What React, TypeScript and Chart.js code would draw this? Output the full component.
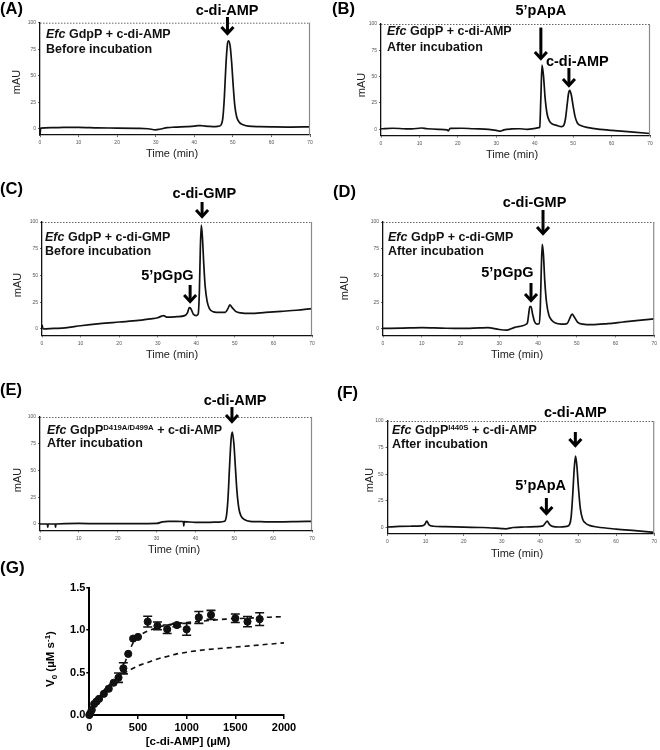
import React, { useEffect, useRef } from 'react';
import { Chart, registerables } from 'chart.js';

Chart.register(...registerables);

const FONT = '"Liberation Sans", Arial, Helvetica, sans-serif';
Chart.defaults.font.family = FONT;

// ---------- data ----------
const TIME_TICKS = [0, 10, 20, 30, 40, 50, 60, 70];
const MAU_TICKS = [0, 25, 50, 75, 100];

const A_TIME = [0, 0.2, 3, 6, 10, 15, 20, 25, 28, 30, 31, 33, 35, 38, 40, 41, 42, 44, 45.5, 46.5, 47, 47.4, 47.8, 48.2, 48.6, 48.9, 49.3, 49.7, 50.1, 50.5, 51, 51.7, 52.5, 54, 57, 60, 65, 70];
const A_MAU = [-6, 0.5, 1, 1.2, 1.3, 0.8, 0.6, 0.3, 0, -1, -0.5, 1, 1.5, 2, 2.5, 3, 2.8, 2.2, 2, 2.5, 4, 10, 30, 60, 80, 83, 78, 62, 40, 22, 11, 6, 4, 2.5, 2, 1.8, 1.6, 1.8];

const B_TIME = [0, 3, 6, 8, 10.5, 12, 15, 17.2, 17.5, 18, 21, 24, 28, 30, 31, 32, 34, 36, 38, 40, 41, 41.3, 41.6, 41.9, 42.3, 42.7, 43.2, 43.8, 44.6, 45.5, 47, 47.6, 48.0, 48.4, 48.8, 49.1, 49.5, 50.0, 50.5, 51.1, 52, 54, 57, 60, 65, 70];
const B_MAU = [0.5, 1, 0.5, 0.3, 1.2, 0.5, 0, -0.5, -1.5, 0.8, 1, 0.5, 0, -1, -1.8, -0.5, 0.3, 0.5, 0, 0.8, 1.5, 2, 30, 61, 50, 30, 15, 8, 5, 4, 2.5, 4, 10, 22, 34, 37, 33, 22, 12, 6, 3.5, 1.5, 0, -1, -2.5, -4];

const C_TIME = [0, 0.3, 3, 6, 10, 15, 20, 25, 28, 30, 31, 31.5, 32.5, 35, 37, 37.7, 38.2, 38.6, 39.2, 40, 40.5, 40.8, 41.05, 41.3, 41.6, 41.95, 42.3, 42.8, 43.4, 44.5, 46, 47.5, 48.2, 48.7, 49.3, 50.2, 51.5, 54, 58, 62, 66, 70];
const C_MAU = [4, 0, 0.5, 1, 3, 5, 6.5, 8, 9.5, 10.5, 12, 12.5, 11, 11.5, 12.5, 15, 20, 19, 14, 12.5, 14, 35, 75, 97, 85, 60, 40, 26, 19, 16, 15.5, 15.5, 19, 22.5, 20, 16.5, 15, 14.5, 15.5, 16.5, 17.5, 19];

const D_TIME = [0, 5, 10, 15, 20, 25, 27, 30, 32, 34, 36, 37, 37.3, 37.6, 37.9, 38.2, 38.6, 39.1, 39.7, 40.3, 40.6, 40.85, 41.1, 41.4, 41.75, 42.2, 42.8, 43.6, 44.5, 46, 47.5, 48.2, 48.8, 49.4, 50.2, 51.5, 54, 58, 62, 66, 70];
const D_MAU = [0.5, 0.8, 1.2, 0.8, 0.5, 1, 1.2, -0.5, -1, 1.5, 3, 4.5, 6, 14, 21, 21, 14, 7, 4.5, 5, 20, 55, 79, 70, 45, 25, 13, 8, 5.5, 4.5, 5, 10, 14, 11, 6.5, 4.5, 4, 5, 6.5, 8, 9.5];

const E_TIME = [0, 1.9, 2.0, 2.1, 3.9, 4.0, 4.1, 10, 15, 20, 25, 30, 31.5, 33, 35, 36.9, 37, 37.1, 40, 43, 46, 47.5, 48, 48.4, 48.8, 49.2, 49.5, 49.9, 50.3, 50.7, 51.2, 51.8, 52.7, 54, 56, 58, 62, 66, 70];
const E_MAU = [0, 0, -3, 0, 0, -3, 0, 0.5, 0.3, 0.3, 0.3, 0.5, 2, 2.5, 2.5, 2.3, -2, 2.2, 1.5, 1.5, 1.8, 2.5, 8, 25, 55, 80, 86, 75, 52, 30, 14, 7, 4, 2.5, 2.2, 2, 2, 2.2, 2.5];

const F_TIME = [0, 3, 6, 9, 9.8, 10.3, 10.9, 12, 15, 20, 25, 30, 31, 33, 36, 39, 40.8, 41.4, 41.9, 42.5, 43.3, 45, 47, 47.8, 48.2, 48.6, 49, 49.35, 49.7, 50.1, 50.6, 51.2, 52, 53, 55, 60, 65, 70];
const F_MAU = [0.5, 1, 1.2, 1.5, 3, 6, 2.5, 1.2, 0.8, 0.3, 0, -1, -1.2, 0, 0.5, 0.8, 1.5, 4, 6, 3, 1, 0.5, 1, 3, 10, 30, 55, 67, 58, 38, 18, 8, 4, 2, 0.5, -1.5, -3, -4.5];

const G_X_TICKS = [0, 500, 1000, 1500, 2000];
const G_Y_TICKS = [0, 0.5, 1.0, 1.5];
const G_CONC = [0, 10, 25, 50, 75, 100, 150, 200, 250, 300, 350, 400, 450, 500, 600, 700, 800, 900, 1000, 1125, 1250, 1500, 1625, 1750];
const G_V0 = [0, 0.02, 0.06, 0.13, 0.16, 0.19, 0.25, 0.31, 0.38, 0.44, 0.55, 0.72, 0.9, 0.92, 1.1, 1.05, 1.01, 1.06, 1.01, 1.15, 1.18, 1.14, 1.1, 1.13];
const G_ERR = [0, 0, 0, 0, 0, 0, 0, 0, 0, 0.055, 0.065, 0, 0, 0, 0.063, 0.045, 0.05, 0.02, 0.07, 0.07, 0.053, 0.05, 0.06, 0.075];
const FIT_CONC = [0, 50, 100, 150, 200, 250, 300, 350, 400, 450, 500, 550, 600, 700, 800, 900, 1000, 1200, 1400, 1600, 1800, 2000];
const FIT_HILL = [0, 0.11, 0.19, 0.25, 0.31, 0.37, 0.44, 0.57, 0.72, 0.85, 0.92, 0.96, 0.99, 1.03, 1.06, 1.08, 1.09, 1.11, 1.13, 1.14, 1.15, 1.16];
const FIT_MM = [0, 0.12, 0.21, 0.29, 0.35, 0.4, 0.45, 0.49, 0.52, 0.55, 0.58, 0.6, 0.62, 0.66, 0.69, 0.72, 0.74, 0.77, 0.79, 0.81, 0.83, 0.85];

// ---------- layout / styling ----------
type Seg = { t: string; i?: boolean; sup?: boolean };
type Lbl = { text: string; x: number; y: number };
type Arw = { x: number; y1: number; y2: number };
type Panel = {
  key: string; letter: string;
  box: number[]; area: number[]; yMin: number;
  t: number[]; v: number[];
  letterPos: number[]; yTitle: number[]; xTitle: number[];
  innerX: number; innerY: number[]; lines: Seg[][];
  labels: Lbl[]; arrows: Arw[];
};

const LINE_AMP_BEFORE: Seg[][] = [[{ t: 'Efc', i: true }, { t: ' GdpP + c-di-AMP' }], [{ t: 'Before incubation' }]];
const LINE_AMP_AFTER: Seg[][] = [[{ t: 'Efc', i: true }, { t: ' GdpP + c-di-AMP' }], [{ t: 'After incubation' }]];
const LINE_GMP_BEFORE: Seg[][] = [[{ t: 'Efc', i: true }, { t: ' GdpP + c-di-GMP' }], [{ t: 'Before incubation' }]];
const LINE_GMP_AFTER: Seg[][] = [[{ t: 'Efc', i: true }, { t: ' GdpP + c-di-GMP' }], [{ t: 'After incubation' }]];
const LINE_E: Seg[][] = [[{ t: 'Efc', i: true }, { t: ' GdpP' }, { t: 'D419A/D499A', sup: true }, { t: ' + c-di-AMP' }], [{ t: 'After incubation' }]];
const LINE_F: Seg[][] = [[{ t: 'Efc', i: true }, { t: ' GdpP' }, { t: 'I440S', sup: true }, { t: ' + c-di-AMP' }], [{ t: 'After incubation' }]];

const PANELS: Panel[] = [
  { key: 'A', letter: '(A)', box: [0, 0, 330, 168], area: [40, 22.7, 310, 135.1], yMin: -6, t: A_TIME, v: A_MAU,
    letterPos: [0, 13.5], yTitle: [17, 82], xTitle: [172, 157], innerX: 46, innerY: [37.7, 52.7], lines: LINE_AMP_BEFORE,
    labels: [{ text: 'c-di-AMP', x: 48.5, y: 107.7 }], arrows: [{ x: 48.6, y1: 105.4, y2: 88.4 }] },
  { key: 'B', letter: '(B)', box: [330, 0, 330, 168], area: [381, 24, 650, 135.6], yMin: -6, t: B_TIME, v: B_MAU,
    letterPos: [332, 14], yTitle: [362, 85], xTitle: [512, 158], innerX: 387, innerY: [35.3, 51], lines: LINE_AMP_AFTER,
    labels: [{ text: '5\u2019pApA', x: 41.6, y: 109 }, { text: 'c-di-AMP', x: 51.1, y: 60.1 }],
    arrows: [{ x: 41.6, y1: 96.6, y2: 65.8 }, { x: 48.9, y1: 58.2, y2: 40.2 }] },
  { key: 'C', letter: '(C)', box: [0, 168, 330, 197], area: [42, 222, 312, 335.4], yMin: -6, t: C_TIME, v: C_MAU,
    letterPos: [0, 193.5], yTitle: [18, 285], xTitle: [172, 358], innerX: 45, innerY: [240.5, 254.5], lines: LINE_GMP_BEFORE,
    labels: [{ text: 'c-di-GMP', x: 42.1, y: 122.4 }, { text: '5\u2019pGpG', x: 32.5, y: 45.8 }],
    arrows: [{ x: 41.5, y1: 118.7, y2: 103.7 }, { x: 38.4, y1: 41.1, y2: 24.3 }] },
  { key: 'D', letter: '(D)', box: [330, 168, 330, 197], area: [383, 222, 656, 335.4], yMin: -6, t: D_TIME, v: D_MAU,
    letterPos: [333, 196.5], yTitle: [345, 288], xTitle: [517, 358], innerX: 388, innerY: [240.5, 254.5], lines: LINE_GMP_AFTER,
    labels: [{ text: 'c-di-GMP', x: 39.1, y: 114.3 }, { text: '5\u2019pGpG', x: 32.1, y: 48.6 }],
    arrows: [{ x: 41.3, y1: 111.2, y2: 87.9 }, { x: 38.2, y1: 43, y2: 25.2 }] },
  { key: 'E', letter: '(E)', box: [0, 365, 330, 197], area: [40, 417, 312, 530.4], yMin: -6, t: E_TIME, v: E_MAU,
    letterPos: [0, 395], yTitle: [18, 480], xTitle: [174, 553], innerX: 47, innerY: [434, 447], lines: LINE_E,
    labels: [{ text: 'c-di-AMP', x: 50.2, y: 111.2 }], arrows: [{ x: 49.4, y1: 109.3, y2: 94.4 }] },
  { key: 'F', letter: '(F)', box: [330, 365, 330, 197], area: [387.5, 421, 656.5, 533.9], yMin: -6, t: F_TIME, v: F_MAU,
    letterPos: [337, 398], yTitle: [370, 480], xTitle: [517, 557], innerX: 392, innerY: [434, 448], lines: LINE_F,
    labels: [{ text: 'c-di-AMP', x: 49.3, y: 103.8 }, { text: '5\u2019pApA', x: 40.2, y: 35.2 }],
    arrows: [{ x: 49.3, y1: 89.7, y2: 75.6 }, { x: 41.7, y1: 27.7, y2: 11.7 }] },
];

const G_BOX = [0, 556, 330, 194];
const G_AREA = [89.3, 587.7, 284, 715];

// ---------- drawing helpers ----------
function drawSegs(ctx: CanvasRenderingContext2D, segs: Seg[], x: number, y: number, size: number) {
  let cx = x;
  ctx.textAlign = 'left';
  ctx.textBaseline = 'alphabetic';
  for (const s of segs) {
    const sz = s.sup ? size * 0.62 : size;
    ctx.font = `${s.i ? 'italic ' : ''}bold ${sz}px ${FONT}`;
    const dy = s.sup ? -size * 0.36 : 0;
    ctx.fillText(s.t, cx, y + dy);
    cx += ctx.measureText(s.t).width;
  }
}

function drawArrow(ctx: CanvasRenderingContext2D, x: number, yTop: number, yTip: number) {
  ctx.save();
  ctx.strokeStyle = '#000';
  ctx.lineWidth = 3;
  ctx.lineCap = 'butt';
  ctx.lineJoin = 'miter';
  ctx.beginPath();
  ctx.moveTo(x, yTop);
  ctx.lineTo(x, yTip - 2);
  ctx.stroke();
  ctx.beginPath();
  ctx.moveTo(x - 6, yTip - 8);
  ctx.lineTo(x, yTip - 1.5);
  ctx.lineTo(x + 6, yTip - 8);
  ctx.stroke();
  ctx.restore();
}

function buildChromatogram(canvas: HTMLCanvasElement, p: Panel) {
  const [cx, cy, cw, ch] = p.box;
  const [L, T, R, B] = p.area;
  const deco = {
    id: 'deco' + p.key,
    afterDraw(chart: any) {
      const ctx: CanvasRenderingContext2D = chart.ctx;
      const xs = chart.scales.x;
      const ys = chart.scales.y;
      const a = chart.chartArea;
      ctx.save();
      ctx.strokeStyle = '#666';
      ctx.lineWidth = 1;
      ctx.setLineDash([1.5, 1.5]);
      ctx.beginPath();
      ctx.moveTo(a.left, a.top + 0.5);
      ctx.lineTo(a.right, a.top + 0.5);
      ctx.stroke();
      ctx.setLineDash([]);
      ctx.strokeStyle = '#8a8a8a';
      ctx.lineWidth = 1.2;
      ctx.beginPath();
      ctx.moveTo(a.right - 0.5, a.top);
      ctx.lineTo(a.right - 0.5, a.bottom);
      ctx.stroke();
      ctx.fillStyle = '#111';
      p.lines.forEach((segs, i) => drawSegs(ctx, segs, p.innerX - cx, p.innerY[i] - cy, 12.5));
      ctx.font = `bold 14.5px ${FONT}`;
      ctx.textAlign = 'center';
      ctx.textBaseline = 'alphabetic';
      ctx.fillStyle = '#000';
      for (const l of p.labels) {
        ctx.fillText(l.text, xs.getPixelForValue(l.x), ys.getPixelForValue(l.y));
      }
      for (const ar of p.arrows) {
        drawArrow(ctx, xs.getPixelForValue(ar.x), ys.getPixelForValue(ar.y1), ys.getPixelForValue(ar.y2));
      }
      ctx.fillStyle = '#222';
      ctx.font = `11px ${FONT}`;
      ctx.textAlign = 'center';
      ctx.fillText('Time (min)', p.xTitle[0] - cx, p.xTitle[1] - cy);
      ctx.save();
      ctx.translate(p.yTitle[0] - cx, p.yTitle[1] - cy);
      ctx.rotate(-Math.PI / 2);
      ctx.textBaseline = 'middle';
      ctx.fillText('mAU', 0, 0);
      ctx.restore();
      ctx.fillStyle = '#000';
      ctx.font = `bold 16.5px ${FONT}`;
      ctx.textAlign = 'left';
      ctx.textBaseline = 'alphabetic';
      ctx.fillText(p.letter, p.letterPos[0] - cx, p.letterPos[1] - cy);
      ctx.restore();
    },
  };
  const tickFont = { family: FONT, size: 5 };
  return new Chart(canvas, {
    type: 'line',
    data: {
      datasets: [
        {
          data: p.t.map((x, i) => ({ x, y: p.v[i] })),
          borderColor: '#111',
          borderWidth: 1.7,
          pointRadius: 0,
          fill: false,
          cubicInterpolationMode: 'monotone',
        },
      ],
    },
    options: {
      responsive: false,
      animation: false,
      devicePixelRatio: 1,
      events: [],
      layout: { autoPadding: false, padding: { left: 0, top: T - cy, right: cx + cw - R, bottom: 0 } },
      plugins: { legend: { display: false }, tooltip: { enabled: false } },
      scales: {
        x: {
          type: 'linear', min: 0, max: 70,
          afterBuildTicks: (ax: any) => { ax.ticks = TIME_TICKS.map((v) => ({ value: v })); },
          afterFit: (ax: any) => { ax.height = cy + ch - B; },
          grid: { drawOnChartArea: false, drawTicks: true, tickLength: 2, color: '#222', lineWidth: 0.7 },
          border: { display: true, color: '#111', width: 1.3 },
          ticks: { font: tickFont, color: '#555', padding: 3, maxRotation: 0, autoSkip: false },
        },
        y: {
          type: 'linear', min: p.yMin, max: 100,
          afterBuildTicks: (ax: any) => { ax.ticks = MAU_TICKS.map((v) => ({ value: v })); },
          afterFit: (ax: any) => { ax.width = L - cx; },
          grid: { drawOnChartArea: false, drawTicks: true, tickLength: 2, color: '#222', lineWidth: 0.7 },
          border: { display: true, color: '#111', width: 1.3 },
          ticks: { font: tickFont, color: '#555', padding: 2, autoSkip: false },
        },
      },
    } as any,
    plugins: [deco],
  } as any);
}

function buildKinetics(canvas: HTMLCanvasElement) {
  const [cx, cy, cw, ch] = G_BOX;
  const [L, T, R, B] = G_AREA;
  const deco = {
    id: 'decoG',
    afterDatasetsDraw(chart: any) {
      const ctx: CanvasRenderingContext2D = chart.ctx;
      const xs = chart.scales.x;
      const ys = chart.scales.y;
      ctx.save();
      ctx.strokeStyle = '#111';
      ctx.lineWidth = 1.6;
      G_CONC.forEach((c, i) => {
        const e = G_ERR[i];
        if (!e) return;
        const px = xs.getPixelForValue(c);
        const y1 = ys.getPixelForValue(G_V0[i] + e);
        const y2 = ys.getPixelForValue(G_V0[i] - e);
        ctx.beginPath();
        ctx.moveTo(px, y1);
        ctx.lineTo(px, y2);
        ctx.moveTo(px - 4.5, y1);
        ctx.lineTo(px + 4.5, y1);
        ctx.moveTo(px - 4.5, y2);
        ctx.lineTo(px + 4.5, y2);
        ctx.stroke();
      });
      ctx.restore();
    },
    afterDraw(chart: any) {
      const ctx: CanvasRenderingContext2D = chart.ctx;
      ctx.save();
      ctx.fillStyle = '#000';
      ctx.font = `bold 11.5px ${FONT}`;
      ctx.textAlign = 'center';
      ctx.textBaseline = 'alphabetic';
      ctx.fillText('[c-di-AMP] (\u00b5M)', 188 - cx, 745 - cy);
      const segs: { t: string; s: number; dy: number }[] = [
        { t: 'V', s: 11.5, dy: 0 },
        { t: '0', s: 8, dy: 3 },
        { t: ' (\u00b5M s', s: 11.5, dy: 0 },
        { t: '-1', s: 8, dy: -4.5 },
        { t: ')', s: 11.5, dy: 0 },
      ];
      let w = 0;
      for (const s of segs) { ctx.font = `bold ${s.s}px ${FONT}`; w += ctx.measureText(s.t).width; }
      ctx.translate(54 - cx, 659 - cy);
      ctx.rotate(-Math.PI / 2);
      ctx.textAlign = 'left';
      let x = -w / 2;
      for (const s of segs) {
        ctx.font = `bold ${s.s}px ${FONT}`;
        ctx.fillText(s.t, x, s.dy);
        x += ctx.measureText(s.t).width;
      }
      ctx.restore();
      ctx.save();
      ctx.fillStyle = '#000';
      ctx.font = `bold 17px ${FONT}`;
      ctx.textAlign = 'left';
      ctx.fillText('(G)', 0 - cx, 573 - cy);
      ctx.restore();
    },
  };
  const tickFont = { family: FONT, size: 11, weight: 'bold' };
  return new Chart(canvas, {
    type: 'scatter',
    data: {
      datasets: [
        {
          type: 'line',
          data: FIT_CONC.map((x, i) => ({ x, y: FIT_HILL[i] })),
          borderColor: '#111', borderWidth: 1.6, borderDash: [5, 4], pointRadius: 0,
          cubicInterpolationMode: 'monotone', fill: false,
        },
        {
          type: 'line',
          data: FIT_CONC.map((x, i) => ({ x, y: FIT_MM[i] })),
          borderColor: '#111', borderWidth: 1.6, borderDash: [5, 4], pointRadius: 0,
          cubicInterpolationMode: 'monotone', fill: false,
        },
        {
          type: 'scatter',
          data: G_CONC.map((x, i) => ({ x, y: G_V0[i] })),
          backgroundColor: '#111', borderColor: '#111', pointRadius: 3.6, clip: false,
        },
      ],
    },
    options: {
      responsive: false,
      animation: false,
      devicePixelRatio: 1,
      events: [],
      layout: { autoPadding: false, padding: { left: 0, top: T - cy, right: cx + cw - R, bottom: 0 } },
      plugins: { legend: { display: false }, tooltip: { enabled: false } },
      scales: {
        x: {
          type: 'linear', min: 0, max: 2000,
          afterBuildTicks: (ax: any) => { ax.ticks = G_X_TICKS.map((v) => ({ value: v })); },
          afterFit: (ax: any) => { ax.height = cy + ch - B; },
          grid: { drawOnChartArea: false, drawTicks: true, tickLength: 4, color: '#000', lineWidth: 1.5 },
          border: { display: true, color: '#000', width: 2 },
          ticks: { font: tickFont, color: '#000', padding: 2, maxRotation: 0, autoSkip: false, callback: (v: any) => String(v) },
        },
        y: {
          type: 'linear', min: 0, max: 1.5,
          afterBuildTicks: (ax: any) => { ax.ticks = G_Y_TICKS.map((v) => ({ value: v })); },
          afterFit: (ax: any) => { ax.width = L - cx; },
          grid: { drawOnChartArea: false, drawTicks: true, tickLength: 3, color: '#000', lineWidth: 1.5 },
          border: { display: true, color: '#000', width: 2 },
          ticks: { font: tickFont, color: '#000', padding: 1, autoSkip: false, callback: (v: any) => Number(v).toFixed(1) },
        },
      },
    } as any,
    plugins: [deco],
  } as any);
}

function ChromPanel({ p }: { p: Panel }) {
  const ref = useRef<HTMLCanvasElement>(null);
  useEffect(() => {
    if (!ref.current) return;
    const c = buildChromatogram(ref.current, p);
    return () => c.destroy();
  }, [p]);
  const [x, y, w, h] = p.box;
  return (
    <canvas ref={ref} width={w} height={h}
      style={{ position: 'absolute', left: x, top: y, width: w, height: h }} />
  );
}

function KineticsPanel() {
  const ref = useRef<HTMLCanvasElement>(null);
  useEffect(() => {
    if (!ref.current) return;
    const c = buildKinetics(ref.current);
    return () => c.destroy();
  }, []);
  const [x, y, w, h] = G_BOX;
  return (
    <canvas ref={ref} width={w} height={h}
      style={{ position: 'absolute', left: x, top: y, width: w, height: h }} />
  );
}

export default function App() {
  useEffect(() => {
    document.body.style.margin = '0';
  }, []);
  return (
    <div style={{ position: 'absolute', left: 0, top: 0, width: 660, height: 750, background: '#fff', overflow: 'hidden' }}>
      {PANELS.map((p) => <ChromPanel key={p.key} p={p} />)}
      <KineticsPanel />
    </div>
  );
}
